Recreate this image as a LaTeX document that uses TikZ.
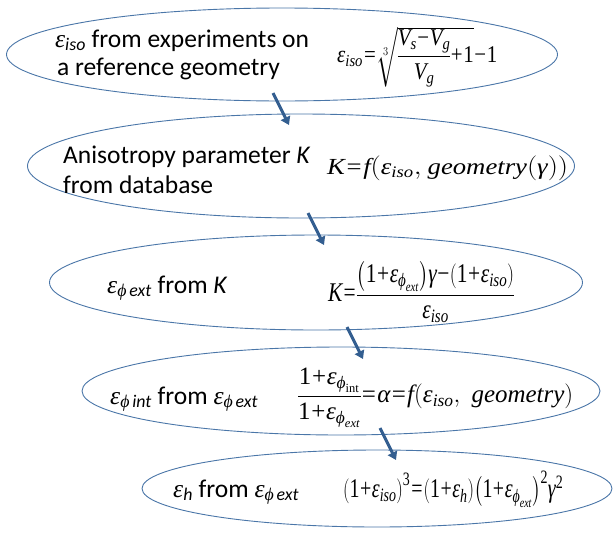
\documentclass[tikz,border=0pt]{standalone}
\usepackage{amsmath}
\usepackage{graphicx}
\usepackage{fontspec}
\setmainfont{Carlito}
\newfontfamily\tms{Liberation Serif}
\usetikzlibrary{shapes.geometric,arrows.meta}
\definecolor{ell}{HTML}{4A76A8}
\definecolor{arr}{HTML}{335E90}
\newcommand{\mi}[1]{\text{\tms\itshape #1}}
\newcommand{\mr}[1]{\text{\tms #1}}
\newcommand{\pl}{\mathbin{\mr{+}}}
\newcommand{\mn}{\mathbin{\mr{−}}}
\newcommand{\eq}{\mathrel{\mr{=}}}
\newcommand{\ep}{\mi{ε}}
\newcommand{\ph}{\mi{ϕ}}
\newcommand{\tight}{\thinmuskip=0mu \thickmuskip=1mu \medmuskip=0.5mu \nulldelimiterspace=0pt \relax}
\newcommand{\fitw}[2]{\resizebox{#1}{\height}{#2}}
\begin{document}
\begin{tikzpicture}[x=1pt,y=-1pt,
  oval/.style={draw=ell,line width=0.9pt,fill=white,ellipse,inner sep=0pt},
  lbl/.style={anchor=base west,inner sep=0pt,font=\fontsize{25.5}{30}\selectfont},
  frm/.style={anchor=west,inner sep=0pt,font=\fontsize{23}{27}\selectfont},
  flow/.style={draw=arr,line width=3pt,-{Triangle[length=8pt,width=10pt]}}]
\useasboundingbox (0,0) rectangle (613,533);
% ellipses
\node[oval,minimum width=551pt,minimum height=93pt] (e1) at (282,54.5) {};
\node[oval,minimum width=547pt,minimum height=104pt] (e2) at (301,166) {};
\node[oval,minimum width=533pt,minimum height=95pt] (e3) at (316,282.5) {};
\node[oval,minimum width=518pt,minimum height=88pt] (e4) at (341,391) {};
\node[oval,minimum width=470pt,minimum height=77pt] (e5) at (377,488.5) {};
% texts
\node[lbl] (t1a) at (55,47) {$\ep_{\textit{iso}}$ from experiments on};
\node[lbl] (t1b) at (57,75) {a reference geometry};
\node[frm,font=\fontsize{24}{28}\selectfont] (f1) at (337,57) {\fitw{160pt}{$\tight\ep_{\mi{iso}}\eq\sqrt[3]{\dfrac{\mi{V}_{\mi{s}}\mn\mi{V}_{\mi{g}}}{\mi{V}_{\mi{g}}}\pl\mr{1}}\mn\mr{1}$}};
\node[lbl] (t2a) at (63,163) {Anisotropy parameter \textit{K}};
\node[lbl] (t2b) at (63,193) {from database};
\node[frm] (f2) at (327,168) {\fitw{241pt}{$\tight\mi{K}\eq\mi{f}(\ep_{\mi{iso}},\ \mi{geometry}(\mi{γ}))$}};
\node[lbl] (t3) at (107,293) {$\ep_{\ph\,\textit{ext}}$ from \textit{K}};
\node[frm,font=\fontsize{27}{31}\selectfont] (f3) at (328,292) {\fitw{186pt}{$\tight\mi{K}\eq\dfrac{\left(\mr{1}\pl\ep_{\ph_{\mi{ext}}}\right)\mi{γ}\mn\left(\mr{1}\pl\ep_{\mi{iso}}\right)}{\ep_{\mi{iso}}}$}};
\node[lbl] (t4) at (110,404) {$\ep_{\ph\,\textit{int}}$ from $\ep_{\ph\,\textit{ext}}$};
\node[frm,font=\fontsize{25}{29}\selectfont] (f4) at (298,398) {\fitw{275pt}{$\tight\dfrac{\mr{1}\pl\ep_{\ph_{\mr{int}}}}{\mr{1}\pl\ep_{\ph_{\mi{ext}}}}\eq\mi{α}\eq\mi{f}(\ep_{\mi{iso}},\ \ \mi{geometry})$}};
\node[lbl] (t5) at (173,497) {$\ep_{\textit{h}}$ from $\ep_{\ph\,\textit{ext}}$};
\node[frm,font=\fontsize{27}{31}\selectfont] (f5) at (343,489) {\fitw{220pt}{$\tight\left(\mr{1}\pl\ep_{\mi{iso}}\right)^{\mr{3}}\eq\left(\mr{1}\pl\ep_{\mi{h}}\right)\left(\mr{1}\pl\ep_{\ph_{\mi{ext}}}\right)^{\mr{2}}\mi{γ}^{\mr{2}}$}};
% arrows
\coordinate (a1s) at (273,93);  \coordinate (a1e) at (289,125);
\coordinate (a2s) at (308,213); \coordinate (a2e) at (324,245);
\coordinate (a3s) at (347,327); \coordinate (a3e) at (363,359);
\coordinate (a4s) at (380,428); \coordinate (a4e) at (396,460);
\draw[flow] (a1s) -- (a1e);
\draw[flow] (a2s) -- (a2e);
\draw[flow] (a3s) -- (a3e);
\draw[flow] (a4s) -- (a4e);
\end{tikzpicture}
\end{document}
